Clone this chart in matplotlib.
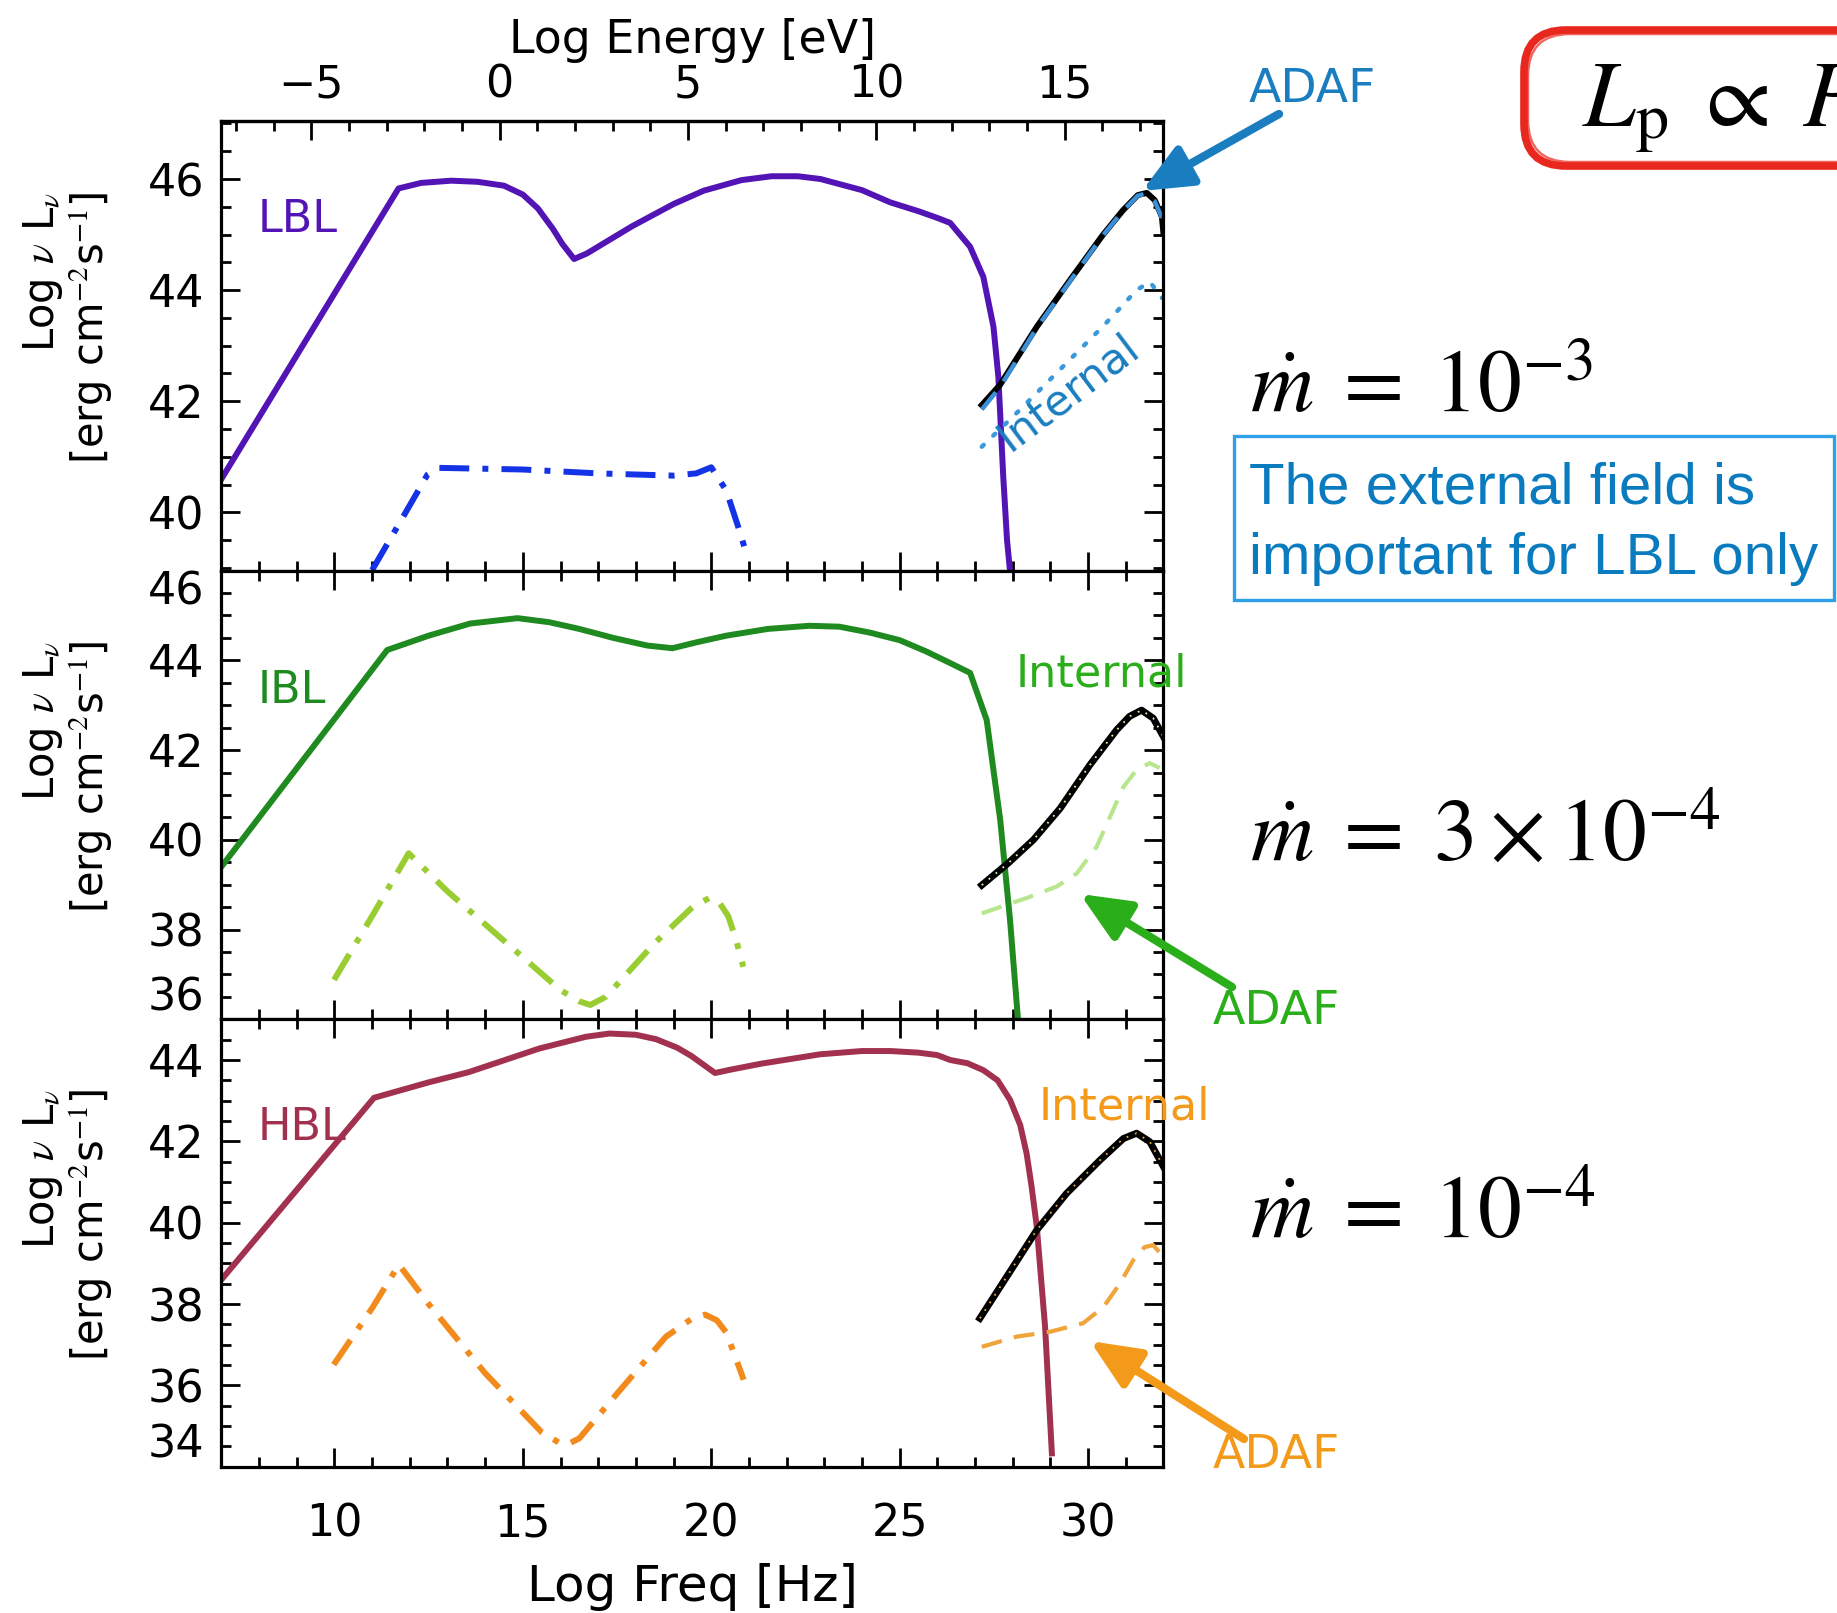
import matplotlib
matplotlib.use('Agg')
import matplotlib.pyplot as plt
from matplotlib.patches import FancyBboxPatch, Rectangle, FancyArrowPatch
from matplotlib.ticker import MultipleLocator, FixedLocator

plt.rcParams['mathtext.fontset'] = 'stix'
plt.rcParams['font.family'] = 'DejaVu Sans'

W, H, DPI = 1837, 1613, 100
HZ_TO_EV = 14.383  # log10(h / eV)

# ---- LBL (top panel) ----
lbl_x = [7.0, 11.7, 12.3, 13.1, 13.8, 14.5, 15.0, 15.4, 15.8, 16.05, 16.36, 16.7, 17.9,
         19.0, 19.8, 20.8, 21.6, 22.3, 22.9, 24.0, 24.75, 25.5, 26.0, 26.34, 26.87, 27.22,
         27.49, 27.62, 27.75, 27.85, 27.95]
lbl_y = [40.6, 45.83, 45.93, 45.97, 45.95, 45.88, 45.72, 45.47, 45.1, 44.83, 44.56, 44.66,
         45.15, 45.55, 45.79, 45.98, 46.05, 46.05, 46.0, 45.8, 45.58, 45.42, 45.3, 45.21,
         44.78, 44.24, 43.34, 42.44, 40.64, 39.5, 38.8]
lbl_ext_x = [11.0, 11.85, 12.47, 12.75, 15.0, 17.0, 19.0, 19.6, 20.0, 20.4, 20.71, 20.9]
lbl_ext_y = [38.96, 39.95, 40.68, 40.8, 40.77, 40.7, 40.66, 40.7, 40.81, 40.39, 39.75, 39.33]
lbl_tot_x = [27.18, 27.66, 28.64, 29.52, 30.39, 30.93, 31.32, 31.56, 31.77, 31.96, 32.0]
lbl_tot_y = [41.93, 42.29, 43.34, 44.18, 44.99, 45.44, 45.71, 45.75, 45.62, 45.32, 45.03]
lbl_adaf_x = [27.18, 27.66, 28.64, 29.52, 30.39, 30.93, 31.32, 31.56, 31.77, 31.96]
lbl_adaf_y = [41.85, 42.25, 43.32, 44.16, 44.98, 45.43, 45.7, 45.74, 45.6, 45.3]
lbl_int_x = [27.18, 28.2, 29.3, 30.4, 31.29, 31.64, 31.96]
lbl_int_y = [41.18, 41.85, 42.6, 43.35, 44.0, 44.15, 43.86]

# ---- IBL (middle panel) ----
ibl_x = [7.0, 11.4, 12.5, 13.6, 14.86, 15.7, 16.5, 17.4, 18.3, 18.97, 19.6, 20.4, 21.5,
         22.6, 23.4, 24.2, 25.0, 25.7, 26.34, 26.87, 27.31, 27.67, 27.93, 28.15]
ibl_y = [39.4, 44.23, 44.55, 44.82, 44.94, 44.85, 44.7, 44.5, 44.33, 44.27, 44.4, 44.55,
         44.7, 44.77, 44.75, 44.62, 44.45, 44.2, 43.94, 43.72, 42.67, 40.44, 38.21, 35.9]
ibl_ext_x = [9.99, 11.0, 11.97, 13.0, 14.5, 16.0, 16.5, 16.79, 17.2, 18.5, 19.5, 19.94,
             20.2, 20.45, 20.65, 20.85]
ibl_ext_y = [36.88, 38.3, 39.7, 38.85, 37.75, 36.65, 36.4, 36.32, 36.5, 37.7, 38.5, 38.7,
             38.62, 38.3, 37.8, 37.17]
ibl_tot_x = [27.18, 27.88, 28.55, 29.26, 30.05, 30.76, 31.1, 31.42, 31.73, 32.0]
ibl_tot_y = [38.99, 39.48, 40.0, 40.70, 41.67, 42.45, 42.75, 42.89, 42.71, 42.3]
ibl_adaf_x = [27.18, 28.46, 29.17, 29.70, 30.23, 30.94, 31.29, 31.64, 31.9]
ibl_adaf_y = [38.36, 38.73, 38.96, 39.25, 39.85, 41.18, 41.56, 41.71, 41.6]

# ---- HBL (bottom panel) ----
hbl_x = [7.0, 11.05, 12.5, 13.56, 15.43, 16.67, 17.3, 18.0, 18.54, 19.1, 19.47, 20.1,
         20.5, 21.33, 22.89, 24.0, 24.75, 25.5, 26.0, 26.34, 26.8, 27.22, 27.6, 27.93,
         28.2, 28.37, 28.5, 28.64, 28.86, 29.04]
hbl_y = [38.6, 43.07, 43.45, 43.7, 44.28, 44.57, 44.65, 44.62, 44.51, 44.3, 44.1, 43.68,
         43.76, 43.91, 44.14, 44.22, 44.22, 44.18, 44.12, 44.0, 43.92, 43.75, 43.5, 43.02,
         42.4, 41.7, 40.9, 39.9, 37.44, 34.33]
hbl_ext_x = [9.98, 11.0, 11.71, 12.5, 14.0, 15.5, 15.95, 16.18, 16.5, 17.5, 18.8, 19.5,
             19.84, 20.15, 20.4, 20.6, 20.86]
hbl_ext_y = [36.51, 37.9, 38.97, 38.0, 36.3, 34.85, 34.6, 34.55, 34.7, 35.8, 37.2, 37.65,
             37.74, 37.6, 37.3, 36.8, 36.14]
hbl_tot_x = [27.13, 27.84, 28.64, 29.43, 30.32, 30.94, 31.29, 31.64, 32.0]
hbl_tot_y = [37.65, 38.67, 39.82, 40.72, 41.54, 42.07, 42.2, 41.99, 41.38]
hbl_adaf_x = [27.18, 28.11, 28.99, 29.87, 30.41, 30.85, 31.2, 31.5, 31.73, 32.0]
hbl_adaf_y = [36.95, 37.2, 37.32, 37.53, 37.93, 38.51, 39.08, 39.4, 39.45, 39.16]

panel_ylims = [(38.95, 47.05), (36.0, 46.0), (34.0, 45.0)]
panel_yticks = [[40, 42, 44, 46], [36, 38, 40, 42, 44, 46], [34, 36, 38, 40, 42, 44]]
freq_ticks = [10, 15, 20, 25, 30]
energy_ticks = [-5, 0, 5, 10, 15]
mdot_labels = [r'$\dot{m}\; =\; 10^{-3}$', r'$\dot{m}\; =\; 3\times 10^{-4}$',
               r'$\dot{m}\; =\; 10^{-4}$']

fig = plt.figure(figsize=(W / DPI, H / DPI), dpi=DPI)
fig.patch.set_facecolor('white')


def pix(x, y):
    # pixel position measured from the top-left corner -> inches for dpi_scale_trans
    return x / DPI, (H - y) / DPI


def ftext(x, y, s, **kw):
    return fig.text(*pix(x, y), s, transform=fig.dpi_scale_trans, **kw)


def arrow(tail, head, color):
    fig.add_artist(FancyArrowPatch(
        pix(*tail), pix(*head), transform=fig.dpi_scale_trans,
        arrowstyle='-|>,head_length=0.5,head_width=0.22', mutation_scale=60,
        lw=6, color=color, shrinkA=0, shrinkB=0))


left, right = 221.4, 1163.4
edges = [(120.7, 570.6), (570.6, 1019.3), (1019.3, 1466.8)]
axes = []
for (top, bot) in edges:
    ax = fig.add_axes([left / W, 1 - bot / H, (right - left) / W, (bot - top) / H])
    axes.append(ax)

for i, ax in enumerate(axes):
    ax.set_xlim(7, 32)
    ax.set_ylim(*panel_ylims[i])
    ax.xaxis.set_major_locator(FixedLocator(freq_ticks))
    ax.xaxis.set_minor_locator(MultipleLocator(1))
    ax.yaxis.set_major_locator(FixedLocator(panel_yticks[i]))
    ax.yaxis.set_minor_locator(MultipleLocator(0.5))
    ax.tick_params(which='both', direction='in', top=(i > 0), right=True, width=2,
                   labelsize=32, colors='black')
    ax.tick_params(which='major', length=14)
    ax.tick_params(which='minor', length=7)
    ax.tick_params(axis='y', pad=12)
    ax.tick_params(axis='x', pad=26)
    for sp in ax.spines.values():
        sp.set_linewidth(2.3)
    if i < 2:
        ax.tick_params(axis='x', labelbottom=False)

# edge labels sit inside the panel like IDL draws them
mid_labels = axes[1].get_yticklabels()
mid_labels[0].set_va('bottom')
mid_labels[-1].set_va('top')
axes[2].get_yticklabels()[0].set_va('bottom')

# top energy axis
sec = axes[0].secondary_xaxis('top', functions=(lambda f: f - HZ_TO_EV,
                                                lambda e: e + HZ_TO_EV))
sec.xaxis.set_major_locator(FixedLocator(energy_ticks))
sec.xaxis.set_minor_locator(MultipleLocator(1))
sec.tick_params(which='both', direction='in', width=2, labelsize=32, pad=10)
sec.tick_params(which='major', length=14)
sec.tick_params(which='minor', length=7)
sec.spines['top'].set_linewidth(2.3)
sec.set_xlabel('Log Energy [eV]', fontsize=33, labelpad=8)

axes[2].set_xlabel('Log Freq [Hz]', fontsize=36, labelpad=12)

dashdot = (5, 2.2, 1, 2.2)

# LBL
ax = axes[0]
ax.plot(lbl_x, lbl_y, color='#5214B4', lw=4.3)
ax.plot(lbl_ext_x, lbl_ext_y, color='#1432E6', lw=4.3, dashes=dashdot)
ax.plot(lbl_tot_x, lbl_tot_y, color='black', lw=4.3)
ax.plot(lbl_adaf_x, lbl_adaf_y, color='#3C8FD6', lw=3.2, dashes=(5, 3))
ax.plot(lbl_int_x, lbl_int_y, color='#3A98DC', lw=3.2, dashes=(0.6, 3.0),
        dash_capstyle='round')

# IBL
ax = axes[1]
ax.plot(ibl_x, ibl_y, color='#1F8A1F', lw=4.3)
ax.plot(ibl_ext_x, ibl_ext_y, color='#9ACD32', lw=4.3, dashes=dashdot)
ax.plot(ibl_adaf_x, ibl_adaf_y, color='#B8E68E', lw=3.0, dashes=(5, 3))
ax.plot(ibl_tot_x, ibl_tot_y, color='black', lw=5.0)
ax.plot(ibl_tot_x, ibl_tot_y, color='#D8F0A8', lw=1.3, dashes=(1, 4))

# HBL
ax = axes[2]
ax.plot(hbl_x, hbl_y, color='#A2314F', lw=4.3)
ax.plot(hbl_ext_x, hbl_ext_y, color='#F28A1C', lw=4.3, dashes=dashdot)
ax.plot(hbl_adaf_x, hbl_adaf_y, color='#F0A43A', lw=3.0, dashes=(5, 3))
ax.plot(hbl_tot_x, hbl_tot_y, color='black', lw=5.0)
ax.plot(hbl_tot_x, hbl_tot_y, color='#E8B040', lw=1.3, dashes=(1, 4))

# y labels, one per panel
for (top, bot) in edges:
    ftext(68, (top + bot) / 2 - 18, 'Log $\\nu$ L$_\\nu$\n[erg cm$^{-2}$s$^{-1}$]',
          rotation=90, fontsize=30, ha='center', va='center', ma='right',
          linespacing=1.05)

# blazar class labels
ftext(258, 219, 'LBL', color='#5214B4', fontsize=32, va='center')
ftext(258, 691, 'IBL', color='#1F8A1F', fontsize=32, va='center')
ftext(258, 1127, 'HBL', color='#A2314F', fontsize=32, va='center')

# component annotations
hand = dict(fontsize=34, family='DejaVu Sans')
ftext(1312, 90, 'ADAF', color='#1A7DC0', ha='center', va='center', **hand)
arrow((1279, 114), (1142, 191), '#1A7DC0')
ftext(1068, 392, 'Internal', color='#1A7DC0', ha='center', va='center', rotation=37,
      fontsize=31)

ftext(1101, 674, 'Internal', color='#2AAE1A', ha='center', va='center', fontsize=32)
ftext(1276, 1012, 'ADAF', color='#2AAE1A', ha='center', va='center', **hand)
arrow((1232, 987), (1080, 894), '#2AAE1A')

ftext(1124, 1107, 'Internal', color='#F39A1A', ha='center', va='center', fontsize=32)
ftext(1276, 1455, 'ADAF', color='#F39A1A', ha='center', va='center', **hand)
arrow((1244, 1439), (1090, 1341), '#F39A1A')

# accretion rates
for y, s in zip([412, 861, 1238], mdot_labels):
    ftext(1250, y, s, fontsize=63, va='baseline', ha='left')

# boxed note
fig.add_artist(Rectangle(pix(1234, 600), 600 / DPI, 164 / DPI, transform=fig.dpi_scale_trans,
                         fill=False, edgecolor='#2F9FEA', lw=2.4))
ftext(1249, 504, 'The external field is', color='#0A7BBF', fontsize=42,
      family='Liberation Sans', va='baseline')
ftext(1249, 574, 'important for LBL only', color='#0A7BBF', fontsize=42,
      family='Liberation Sans', va='baseline')

# red rounded frame around the scaling relation
for off, lw, al in [(0, 5.5, 1.0), (4, 1.8, 0.7)]:
    fig.add_artist(FancyBboxPatch(pix(1524 + off, 166 - off), 400 / DPI, (136 - 2 * off) / DPI,
                                  boxstyle='round,pad=0,rounding_size=0.42',
                                  transform=fig.dpi_scale_trans, fill=False,
                                  edgecolor='#E8281E', lw=lw, alpha=al))
ftext(1582, 126, r'$L_{\rm p}\; \propto\; P$', fontsize=68, va='baseline', ha='left')

fig.savefig('out.png', dpi=DPI)
